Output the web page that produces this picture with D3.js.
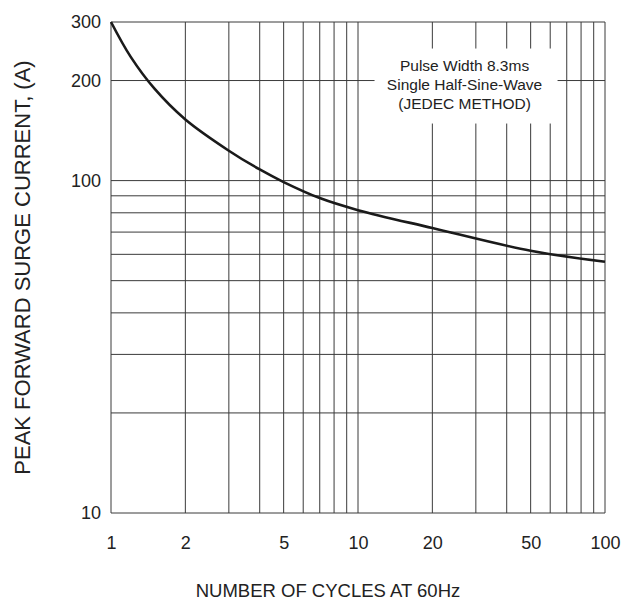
<!DOCTYPE html>
<html>
<head>
<meta charset="utf-8">
<script src="https://cdn.jsdelivr.net/npm/d3@7"></script>
<style>
  body { margin: 0; background: #fff; }
  svg text { font-family: "Liberation Sans", Arial, sans-serif; fill: #222; }
</style>
</head>
<body>
<svg id="chart" width="626" height="601"></svg>
<script>
// surge current curve
const cycles = [1, 1.2, 1.5, 2, 3, 4, 5, 7, 10, 20, 50, 100];
const current = [300, 236, 189, 152.7, 123, 108, 99, 88.6, 81.5, 72, 61.5, 57];

const xTicks = [1, 2, 5, 10, 20, 50, 100];
const yTicks = [10, 100, 200, 300];
const xGrid = [1, 2, 3, 4, 5, 6, 7, 8, 9, 10, 20, 30, 40, 50, 60, 70, 80, 90, 100];
const yGrid = [10, 20, 30, 40, 50, 60, 70, 80, 90, 100, 200, 300];
const noteLines = ['Pulse Width 8.3ms', 'Single Half-Sine-Wave', '(JEDEC METHOD)'];

const margin = { top: 22, right: 21, bottom: 88, left: 111 };
const width = 626 - margin.left - margin.right;
const height = 601 - margin.top - margin.bottom;

const svg = d3.select('#chart');
const g = svg.append('g')
  .attr('transform', `translate(${margin.left}, ${margin.top})`);

const x = d3.scaleLog().domain([1, 100]).range([0, width]);
const y = d3.scaleLog().domain([10, 300]).range([height, 0]);

// grid
g.selectAll('.vgrid')
  .data(xGrid)
  .enter()
  .append('line')
  .attr('x1', d => x(d)).attr('x2', d => x(d))
  .attr('y1', 0).attr('y2', height)
  .attr('stroke', '#3a3a3a')
  .attr('stroke-width', 1);

g.selectAll('.hgrid')
  .data(yGrid)
  .enter()
  .append('line')
  .attr('x1', 0).attr('x2', width)
  .attr('y1', d => y(d)).attr('y2', d => y(d))
  .attr('stroke', '#3a3a3a')
  .attr('stroke-width', 1);

// note box covers the grid
const note = g.append('g')
  .attr('transform', `translate(${x(27)}, ${y(200)})`);
note.append('rect')
  .attr('x', -90).attr('y', -32)
  .attr('width', 183).attr('height', 75)
  .attr('fill', '#fff');
note.selectAll('text')
  .data(noteLines)
  .enter()
  .append('text')
  .attr('text-anchor', 'middle')
  .attr('y', (d, i) => -10 + i * 19)
  .style('font-size', '15.5px')
  .text(d => d);

// curve
const line = d3.line()
  .x((d, i) => x(cycles[i]))
  .y(d => y(d))
  .curve(d3.curveCatmullRom.alpha(0.5));

g.append('path')
  .datum(current)
  .attr('d', line)
  .attr('fill', 'none')
  .attr('stroke', '#1a1a1a')
  .attr('stroke-width', 2.6);

// axes
const xAxis = g.append('g')
  .attr('transform', `translate(0, ${height})`)
  .call(d3.axisBottom(x).tickValues(xTicks).tickFormat(d3.format('d')).tickSize(0).tickPadding(23));
xAxis.select('.domain').remove();
xAxis.selectAll('text').style('font-size', '18px').attr('fill', '#222');

const yAxis = g.append('g')
  .call(d3.axisLeft(y).tickValues(yTicks).tickFormat(d3.format('d')).tickSize(0).tickPadding(10));
yAxis.select('.domain').remove();
yAxis.selectAll('text').style('font-size', '18px').attr('fill', '#222');

// axis titles
svg.append('text')
  .attr('x', 328).attr('y', 597)
  .attr('text-anchor', 'middle')
  .style('font-size', '18.5px')
  .text('NUMBER OF CYCLES AT 60Hz');

svg.append('text')
  .attr('transform', `translate(30, ${margin.top + height / 2}) rotate(-90)`)
  .attr('text-anchor', 'middle')
  .style('font-size', '22px')
  .text('PEAK FORWARD SURGE CURRENT, (A)');
</script>
</body>
</html>
